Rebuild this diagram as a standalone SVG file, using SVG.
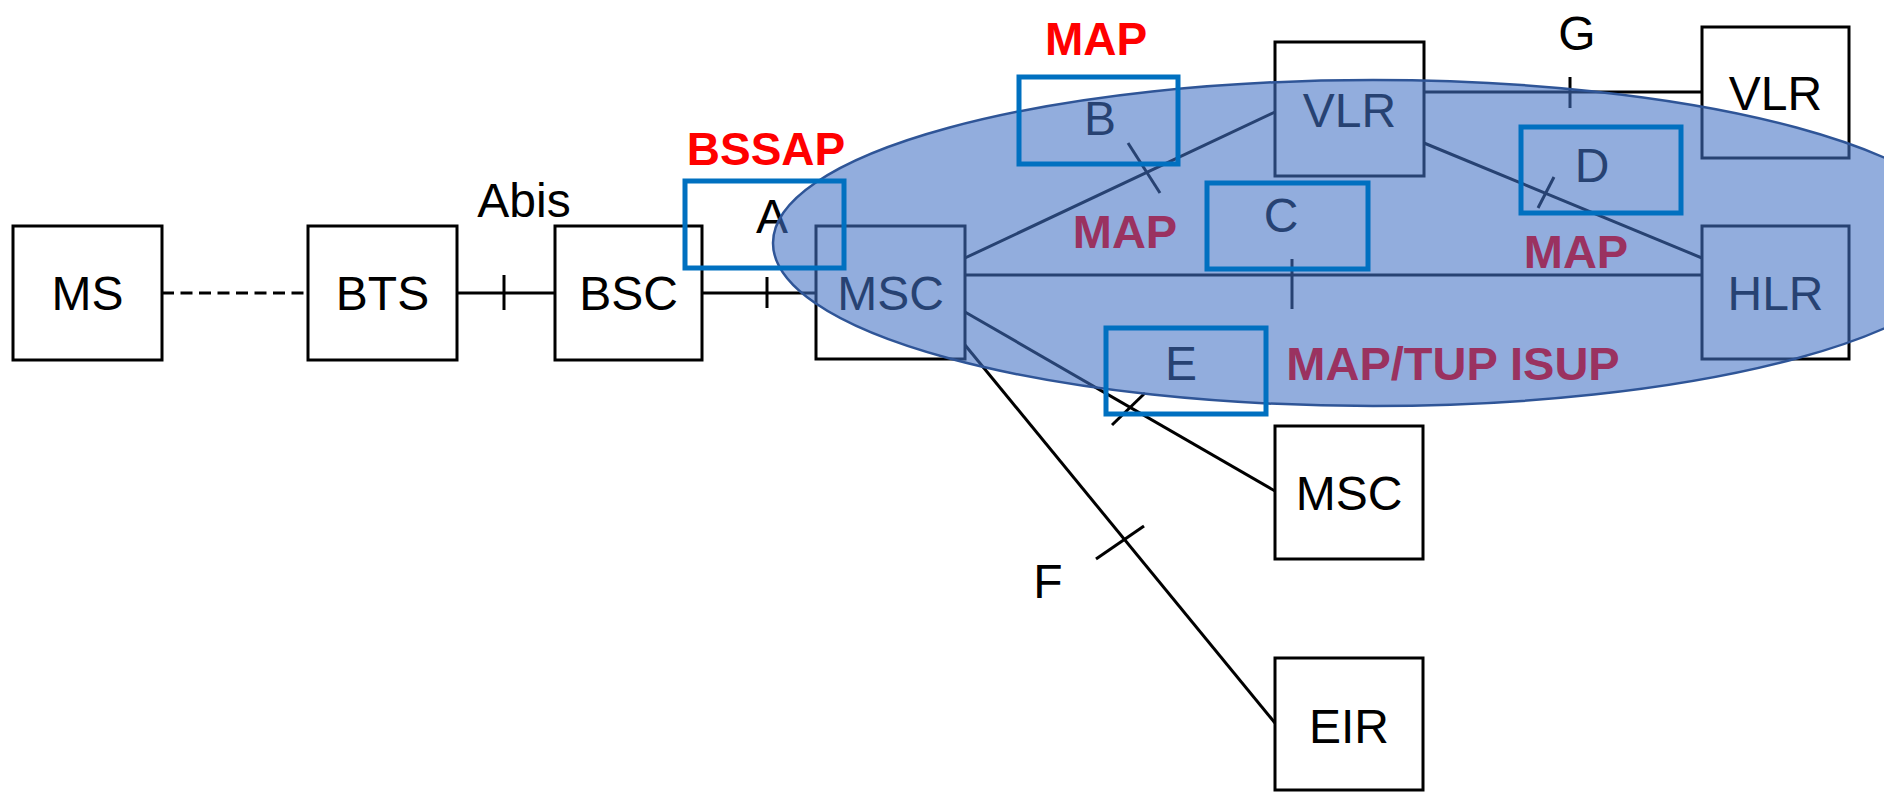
<svg xmlns="http://www.w3.org/2000/svg" width="1884" height="792" viewBox="0 0 1884 792">
<style>
.node rect{fill:#fff;stroke:#000;stroke-width:3}
.nt{font-family:"Liberation Sans",Arial,sans-serif;font-size:48px;fill:#000;text-anchor:middle}
.conn line{stroke:#000;stroke-width:3}
.tick line{stroke:#000;stroke-width:3}
.hl{fill:none;stroke:#0070C0;stroke-width:5}
.red{font-family:"Liberation Sans",Arial,sans-serif;font-weight:bold;font-size:46px;fill:#FF0000;text-anchor:middle}
.pur{font-family:"Liberation Sans",Arial,sans-serif;font-weight:bold;font-size:47px;fill:#9A3260;text-anchor:middle}
</style>
<rect width="1884" height="792" fill="#fff"/>
<g id="connectors" class="conn">
<line x1="162" y1="293" x2="308" y2="293" stroke-dasharray="12 6.5"/>
<line x1="457" y1="293" x2="555" y2="293"/>
<line x1="702" y1="293" x2="816" y2="293"/>
<line x1="965" y1="258" x2="1275" y2="112"/>
<line x1="965" y1="275" x2="1702" y2="275"/>
<line x1="965" y1="312" x2="1275" y2="491"/>
<line x1="965" y1="345" x2="1275" y2="723"/>
<line x1="1424" y1="92" x2="1702" y2="92"/>
<line x1="1424" y1="143" x2="1702" y2="258"/>
</g>
<g id="ticks" class="tick">
<line x1="504" y1="275" x2="504" y2="310"/>
<line x1="767" y1="277" x2="767" y2="308"/>
<line x1="1128" y1="143" x2="1160" y2="193"/>
<line x1="1292" y1="259" x2="1292" y2="309"/>
<line x1="1554" y1="177" x2="1538" y2="208"/>
<line x1="1112" y1="425" x2="1145" y2="393"/>
<line x1="1096" y1="559" x2="1144" y2="526"/>
<line x1="1570" y1="77" x2="1570" y2="108"/>
</g>
<g id="MS" class="node"><rect x="13" y="226" width="149" height="134"/><text class="nt" x="87.5" y="310">MS</text></g>
<g id="BTS" class="node"><rect x="308" y="226" width="149" height="134"/><text class="nt" x="382.5" y="310">BTS</text></g>
<g id="BSC" class="node"><rect x="555" y="226" width="147" height="134"/><text class="nt" x="628.5" y="310">BSC</text></g>
<g id="MSC" class="node"><rect x="816" y="226" width="149" height="133"/><text class="nt" x="890.5" y="310">MSC</text></g>
<g id="VLR1" class="node"><rect x="1275" y="42" width="149" height="134"/><text class="nt" x="1349.5" y="127">VLR</text></g>
<g id="VLR2" class="node"><rect x="1702" y="27" width="147" height="131"/><text class="nt" x="1775.5" y="110">VLR</text></g>
<g id="HLR" class="node"><rect x="1702" y="226" width="147" height="133"/><text class="nt" x="1775.5" y="310">HLR</text></g>
<g id="MSC2" class="node"><rect x="1275" y="426" width="148" height="133"/><text class="nt" x="1349" y="510">MSC</text></g>
<g id="EIR" class="node"><rect x="1275" y="658" width="148" height="132"/><text class="nt" x="1349" y="743">EIR</text></g>
<g id="interface-labels">
<text class="nt" x="524" y="217">Abis</text>
<text class="nt" x="772" y="233">A</text>
<text class="nt" x="1100" y="135">B</text>
<text class="nt" x="1281" y="232">C</text>
<text class="nt" x="1592" y="182">D</text>
<text class="nt" x="1181" y="380">E</text>
<text class="nt" x="1048" y="598">F</text>
<text class="nt" x="1577" y="50">G</text>
</g>
<ellipse id="core-network" cx="1373" cy="243" rx="600" ry="163" fill="#4472C4" fill-opacity="0.58" stroke="#2F5597" stroke-width="2.5"/>
<g id="highlights">
<rect class="hl" x="685" y="181" width="159" height="87"/>
<rect class="hl" x="1019" y="77" width="159" height="87"/>
<rect class="hl" x="1207" y="183" width="161" height="86"/>
<rect class="hl" x="1521" y="127" width="160" height="86"/>
<rect class="hl" x="1106" y="328" width="160" height="86"/>
</g>
<g id="protocols">
<text class="red" x="766" y="165">BSSAP</text>
<text class="red" x="1096" y="55">MAP</text>
<text class="pur" x="1125" y="248">MAP</text>
<text class="pur" x="1576" y="268">MAP</text>
<text class="pur" x="1453" y="380">MAP/TUP ISUP</text>
</g>
</svg>
